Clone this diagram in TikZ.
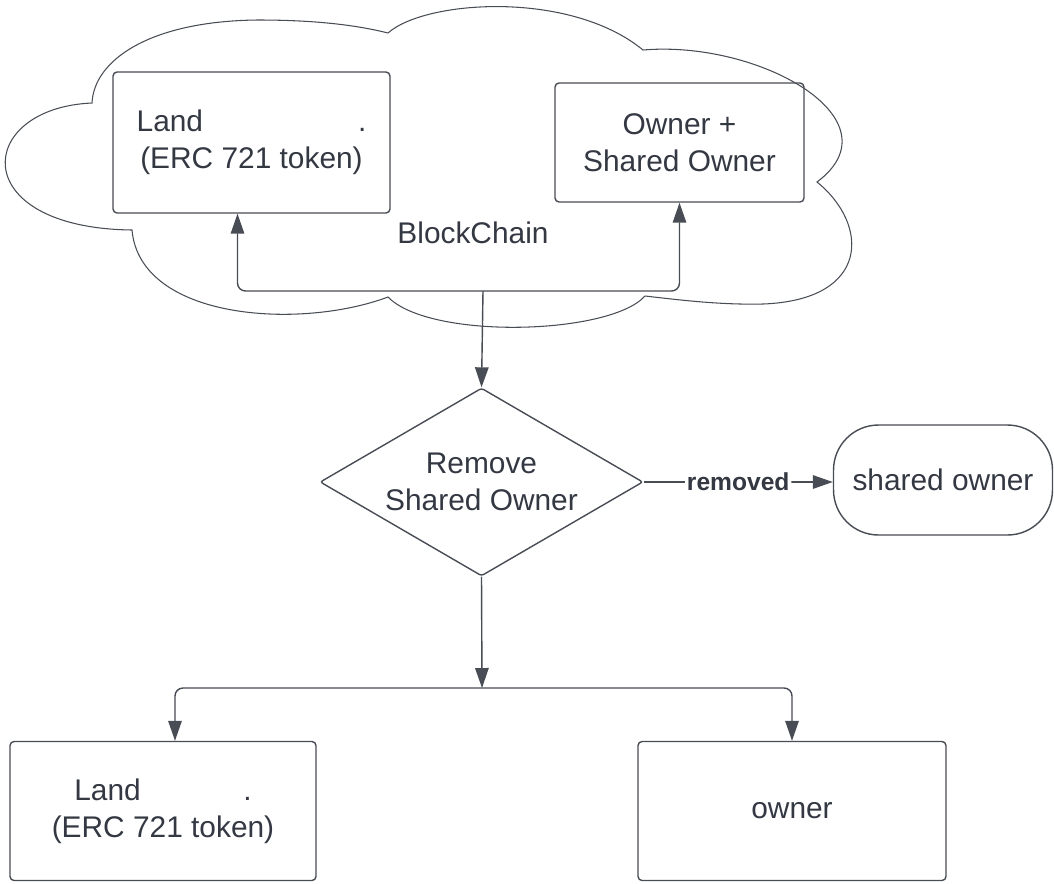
\documentclass[tikz,border=0pt]{standalone}
\usepackage{fontspec}
\setmainfont{Liberation Sans}
\usetikzlibrary{shapes.geometric,arrows.meta}
\definecolor{ln}{RGB}{72,76,84}
\definecolor{tx}{RGB}{51,56,66}
\tikzset{
  txt/.style={text=tx, font=\fontsize{17}{21}\selectfont, align=center, inner sep=0pt},
  box/.style={txt, draw=ln, line width=0.8pt, rounded corners=0.08cm},
  ar/.style={draw=ln, line width=0.8pt, rounded corners=0.16cm, -{Triangle[length=0.4cm,width=0.27cm]}},
}
\begin{document}
\begin{tikzpicture}[x=0.02cm, y=-0.02cm]
\useasboundingbox (0,0) rectangle (1054,883);
\draw[ln, line width=0.6pt] (92,103) .. controls (94,60) and (150,21) .. (258,20)
  .. controls (320,20) and (360,26) .. (388,33)
  .. controls (425,0) and (570,-10) .. (643,50)
  .. controls (760,40) and (900,120) .. (817,182)
  .. controls (870,225) and (870,300) .. (763,304)
  .. controls (720,305) and (680,300) .. (645,296)
  .. controls (610,335) and (430,340) .. (388,297)
  .. controls (300,330) and (140,320) .. (132,230)
  .. controls (-35,228) and (-25,108) .. (92,103) -- cycle;
\node[box, minimum width=5.54cm, minimum height=2.82cm] (land) at (251.5,142.5) {Land\hspace{3.1cm}.\\(ERC 721 token)};
\node[box, minimum width=4.98cm, minimum height=2.38cm] (own) at (679.5,142.5) {Owner +\\Shared Owner};
\node[txt] (chain) at (473,233) {BlockChain};
\coordinate (bus) at (483,291);
\node[box, diamond, shape aspect=1.72, rounded corners=0.05cm, minimum width=6.46cm, minimum height=3.76cm] (rem) at (481.5,482) {Remove\\Shared Owner};
\node[box, rounded corners=0.9cm, minimum width=4.38cm, minimum height=2.2cm] (so) at (943,480) {shared owner};
\coordinate (split) at (482,688);
\node[box, minimum width=6.12cm, minimum height=2.78cm] (land2) at (163,811) {Land\hspace{2.05cm}.\\(ERC 721 token)};
\node[box, minimum width=6.16cm, minimum height=2.78cm] (own2) at (792,811) {owner};
\draw[ar] (bus) -| ([xshift=-0.28cm]land.south);
\draw[ar] (bus) -| (own.south);
\draw[ar] (bus) -- (rem.north);
\draw[ar] (rem.east) -- node[fill=white, text=tx, font=\bfseries\fontsize{14}{16}\selectfont, inner sep=1pt] {removed} (rem.east -| so.west);
\draw[ar] (rem.south) -- (split);
\draw[ar] (split) -| ([xshift=0.24cm]land2.north);
\draw[ar] (split) -| (own2.north);
\end{tikzpicture}
\end{document}
